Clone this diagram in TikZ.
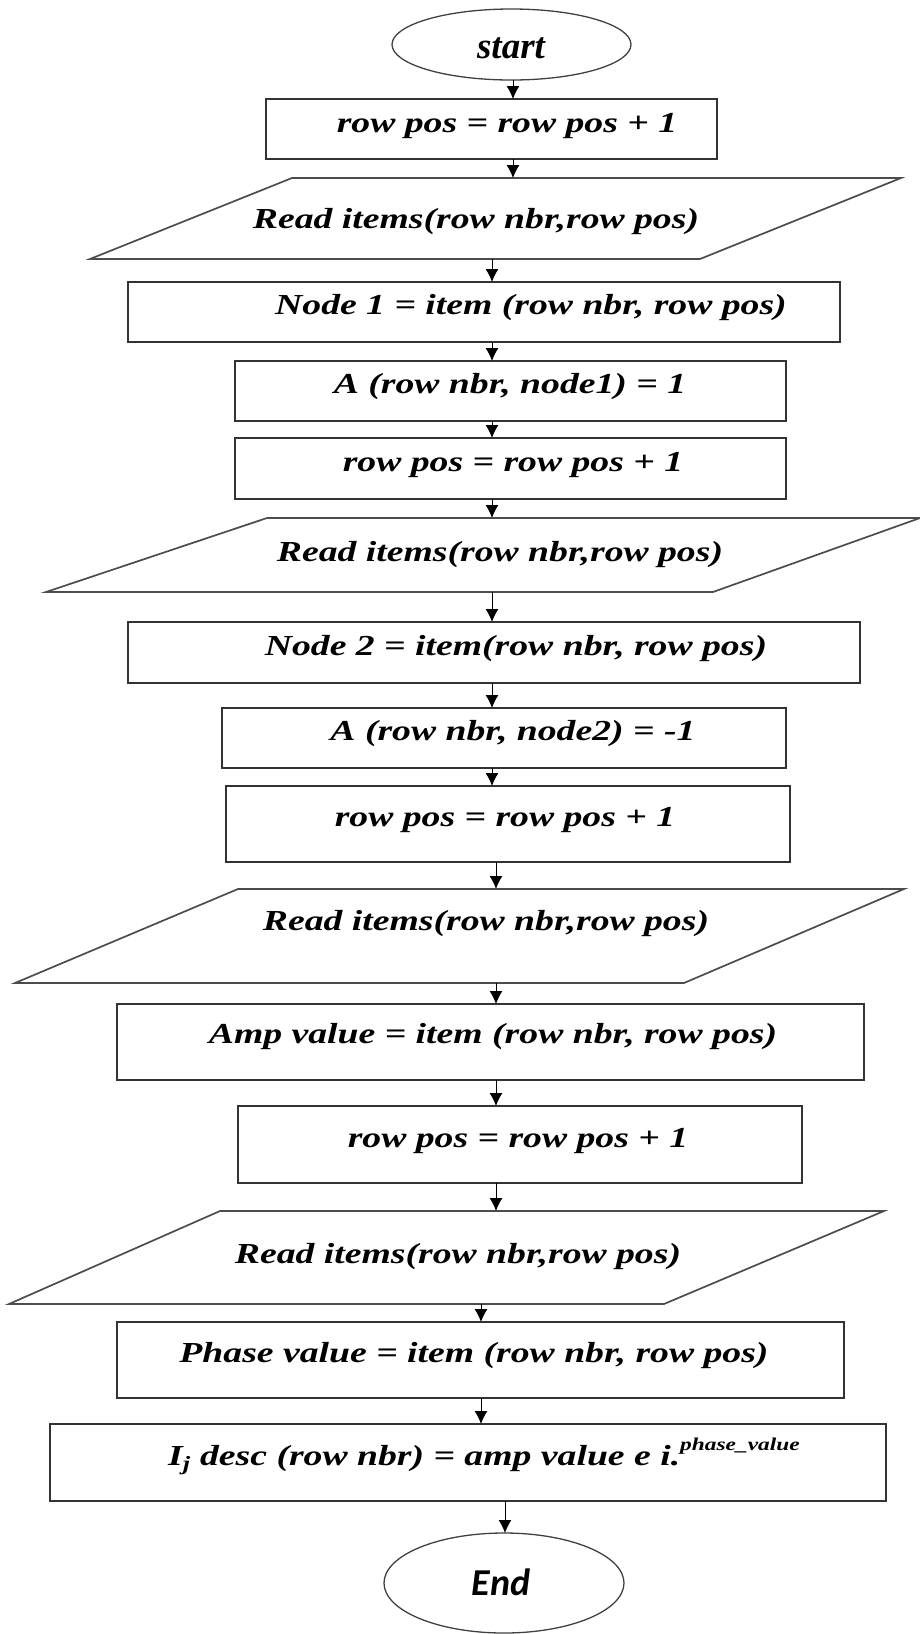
\documentclass[tikz,border=0pt]{standalone}
\usepackage{fontspec}
\setmainfont{Liberation Serif}
\newfontfamily\flowfont{Liberation Serif}[FakeStretch=1.3]
\newfontfamily\termfont{Carlito}
\usetikzlibrary{arrows.meta,shapes.geometric}

\begin{document}
\begin{tikzpicture}[x=1pt,y=-1pt,
  line/.style={draw=black!80, line width=1.5pt},
  ioline/.style={draw=black!70, line width=1.7pt},
  procbox/.style={line, rectangle, inner sep=0pt, outer sep=0pt},
  iobox/.style={rectangle, inner sep=0pt, outer sep=0pt},
  term/.style={draw=black!75, line width=1.3pt, ellipse, inner sep=0pt, outer sep=0pt},
  txt/.style={anchor=base, inner sep=0pt, outer sep=0pt,
    font=\flowfont\bfseries\itshape\fontsize{29}{32}\selectfont},
  starttxt/.style={anchor=base, inner sep=0pt,
    font=\bfseries\itshape\fontsize{37}{40}\selectfont},
  endtxt/.style={anchor=base, inner sep=0pt,
    font=\termfont\bfseries\itshape\fontsize{38}{40}\selectfont},
  arr/.style={draw=black, line width=1pt, -{Latex[length=13pt,width=13pt]}}
]
\useasboundingbox (0,0) rectangle (920,1634);

% columns used by the vertical connectors
\coordinate (cA) at (513,0);
\coordinate (cB) at (492,0);
\coordinate (cC) at (496,0);
\coordinate (cD) at (481,0);
\coordinate (cE) at (505,0);

% terminals
\node[term, minimum width=239, minimum height=71] (start) at (511.5,44.5) {};
\node[starttxt] (startt) at (511,58) {start};
\node[term, minimum width=240, minimum height=100] (end) at (504,1583) {};
\node[endtxt] (endt) at (501,1595) {End};

% process boxes
\node[procbox, minimum width=451, minimum height=60] (b1) at (491.5,129) {};
\node[procbox, minimum width=712, minimum height=60] (b2) at (484,312) {};
\node[procbox, minimum width=551, minimum height=60] (b3) at (510.5,391) {};
\node[procbox, minimum width=551, minimum height=61] (b4) at (510.5,468.5) {};
\node[procbox, minimum width=732, minimum height=61] (b5) at (494,652.5) {};
\node[procbox, minimum width=564, minimum height=60] (b6) at (504,738) {};
\node[procbox, minimum width=564, minimum height=76] (b7) at (508,824) {};
\node[procbox, minimum width=747, minimum height=76] (b8) at (490.5,1042) {};
\node[procbox, minimum width=564, minimum height=77] (b9) at (520,1144.5) {};
\node[procbox, minimum width=727, minimum height=76] (b10) at (480.5,1360) {};
\node[procbox, minimum width=836, minimum height=77] (b11) at (468,1462.5) {};

% input parallelograms (node = bounding box, outline drawn from its anchors)
\node[iobox, minimum width=811, minimum height=81] (p1) at (495.5,218.5) {};
\node[iobox, minimum width=874, minimum height=74] (p2) at (483,555) {};
\node[iobox, minimum width=889, minimum height=94] (p3) at (459.5,936) {};
\node[iobox, minimum width=875, minimum height=93] (p4) at (446.5,1257.5) {};
\draw[ioline] ([xshift=202]p1.north west) -- (p1.north east) -- ([xshift=-201]p1.south east) -- (p1.south west) -- cycle;
\draw[ioline] ([xshift=221]p2.north west) -- (p2.north east) -- ([xshift=-207]p2.south east) -- (p2.south west) -- cycle;
\draw[ioline] ([xshift=223]p3.north west) -- (p3.north east) -- ([xshift=-220]p3.south east) -- (p3.south west) -- cycle;
\draw[ioline] ([xshift=211]p4.north west) -- (p4.north east) -- ([xshift=-220]p4.south east) -- (p4.south west) -- cycle;

% texts
\node[txt] (t1) at (507,132) {row pos = row pos + 1};
\node[txt] (tp1) at (476,228) {Read items(row nbr,row pos)};
\node[txt] (t2) at (531,314) {Node 1 = item (row nbr, row pos)};
\node[txt] (t3) at (510,393) {A (row nbr, node1) = 1};
\node[txt] (t4) at (513,471) {row pos = row pos + 1};
\node[txt] (tp2) at (500,561) {Read items(row nbr,row pos)};
\node[txt] (t5) at (516,655) {Node 2 = item(row nbr, row pos)};
\node[txt] (t6) at (513,740) {A (row nbr, node2) = -1};
\node[txt] (t7) at (505,826) {row pos = row pos + 1};
\node[txt] (tp3) at (486,930) {Read items(row nbr,row pos)};
\node[txt] (t8) at (493,1043) {Amp value = item (row nbr, row pos)};
\node[txt] (t9) at (518,1147) {row pos = row pos + 1};
\node[txt] (tp4) at (458,1263) {Read items(row nbr,row pos)};
\node[txt] (t10) at (474,1362) {Phase value = item (row nbr, row pos)};
\node[txt] (t11) at (484,1465) {I\textsubscript{j} desc (row nbr) = amp value e i.\raisebox{15pt}{\fontsize{18}{19}\selectfont phase\_value}};

% connectors
\draw[arr] (start.south -| cA) -- (b1.north -| cA);
\draw[arr] (b1.south -| cA) -- (p1.north -| cA);
\draw[arr] (p1.south -| cB) -- (b2.north -| cB);
\draw[arr] (b2.south -| cB) -- (b3.north -| cB);
\draw[arr] (b3.south -| cB) -- (b4.north -| cB);
\draw[arr] (b4.south -| cB) -- (p2.north -| cB);
\draw[arr] (p2.south -| cB) -- (b5.north -| cB);
\draw[arr] (b5.south -| cB) -- (b6.north -| cB);
\draw[arr] (b6.south -| cB) -- (b7.north -| cB);
\draw[arr] (b7.south -| cC) -- (p3.north -| cC);
\draw[arr] (p3.south -| cC) -- (b8.north -| cC);
\draw[arr] (b8.south -| cC) -- (b9.north -| cC);
\draw[arr] (b9.south -| cC) -- (p4.north -| cC);
\draw[arr] (p4.south -| cD) -- (b10.north -| cD);
\draw[arr] (b10.south -| cD) -- (b11.north -| cD);
\draw[arr] (b11.south -| cE) -- (end.north -| cE);
\end{tikzpicture}
\end{document}
